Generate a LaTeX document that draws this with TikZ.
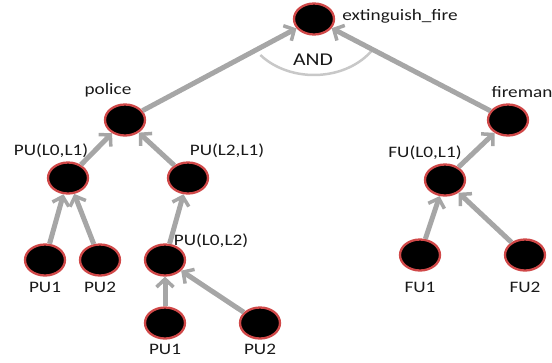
\documentclass[tikz,border=0pt]{standalone}
\usepackage{fontspec}
\setmainfont[FakeStretch=1.2]{Carlito}
\usetikzlibrary{shapes.geometric}
\usetikzlibrary{arrows.meta}
\definecolor{edgegrey}{RGB}{166,166,166}
\definecolor{arcgrey}{RGB}{200,200,200}
\definecolor{ringred}{RGB}{208,72,72}
\definecolor{textdark}{RGB}{25,25,25}

\begin{document}
\begin{tikzpicture}[x=1pt, y=-1pt, font=\fontsize{16}{18}\selectfont,
    goal/.style={ellipse, fill=black, draw=ringred, line width=2.3pt, minimum width=40pt, minimum height=31pt, inner sep=0pt},
    link/.style={edgegrey, line width=5pt, -{Straight Barb[length=8pt,width=17pt,line width=3.5pt]}},
    every label/.style={text=textdark, inner sep=1pt}]

	\useasboundingbox (0,0) rectangle (552,362);

	% root and the AND arc
	\node[goal, label={[label distance=6pt, yshift=3pt]right:extinguish\_fire}] (fire) at (314,19) {};
	\draw[arcgrey, line width=2.5pt] (fire.center) ++(140:70 and 56) arc[start angle=140, end angle=35, x radius=70, y radius=56];
	\node[text=textdark, font=\fontsize{18}{20}\selectfont] (and) at (313,60) {AND};

	% police branch
	\node[goal, label={[label distance=5pt, xshift=-17pt]above:police}] (police) at (125,120) {};
	\node[goal, label={[label distance=2pt, xshift=-17pt]above:PU(L0,L1)}] (pu01) at (68,178) {};
	\node[goal, label={[label distance=2pt, xshift=39pt]above:PU(L2,L1)}] (pu21) at (188,178) {};
	\node[goal, label={[label distance=4pt]below:PU1}] (pua) at (45,260) {};
	\node[goal, label={[label distance=4pt]below:PU2}] (pub) at (100,260) {};
	\node[goal, label={[label distance=-6pt, xshift=46pt]above:PU(L0,L2)}] (pu02) at (165,260) {};
	\node[goal, label={[label distance=3pt]below:PU1}] (puc) at (165,323) {};
	\node[goal, label={[label distance=3pt]below:PU2}] (pud) at (260,323) {};

	% fireman branch
	\node[goal, label={[label distance=5pt, xshift=14pt]above:fireman}] (fireman) at (508,120) {};
	\node[goal, label={[label distance=2pt, xshift=-20pt]above:FU(L0,L1)}] (fu01) at (445,180) {};
	\node[goal, label={[label distance=9pt]below:FU1}] (fua) at (420,255) {};
	\node[goal, label={[label distance=9pt]below:FU2}] (fub) at (525,255) {};

	% connectors
	\draw[link] (police) -- (fire);
	\draw[link] (fireman) -- (fire);
	\draw[link] (pu01) -- (police);
	\draw[link] (pu21) -- (police);
	\draw[link] (pua) -- (pu01);
	\draw[link] (pub) -- (pu01);
	\draw[link] (pu02) -- (pu21);
	\draw[link] (puc) -- (pu02);
	\draw[link] (pud) -- (pu02);
	\draw[link] (fu01) -- (fireman);
	\draw[link] (fua) -- (fu01);
	\draw[link] (fub) -- (fu01);

\end{tikzpicture}
\end{document}
